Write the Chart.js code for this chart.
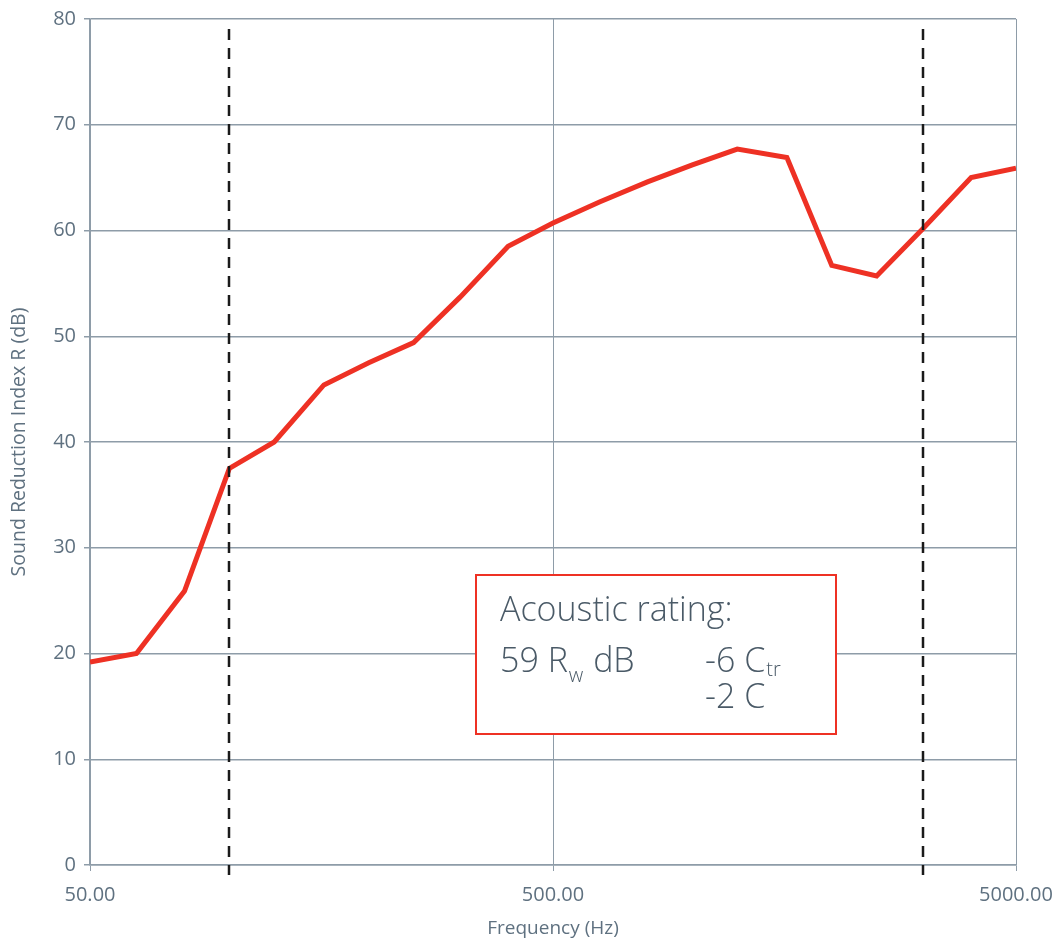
<!DOCTYPE html>
<html>
<head>
<meta charset="utf-8">
<script src="https://cdn.jsdelivr.net/npm/chart.js@4/dist/chart.umd.min.js"></script>
<style>
  html, body { margin: 0; padding: 0; background: #fff; }
  #wrap { width: 1061px; height: 944px; }
</style>
</head>
<body>
<div id="wrap"><canvas id="grafico"></canvas></div>
<script>
// third-octave band centre frequencies (Hz)
var frequencias = [50, 63, 80, 100, 125, 160, 200, 250, 315, 400, 500, 630, 800, 1000, 1250, 1600, 2000, 2500, 3150, 4000, 5000];
// sound reduction index R (dB)
var indice_r = [19.2, 20.0, 25.9, 37.5, 40.0, 45.4, 47.5, 49.4, 53.7, 58.5, 60.7, 62.7, 64.6, 66.2, 67.7, 66.9, 56.7, 55.7, 60.2, 65.0, 65.9];
var ticks_x = [50, 500, 5000];
var limites = [100, 3150]; // dashed band limits

var cor_texto = "#5f7180";
var cor_grade = "#8e9ca8";
var fonte = "'Open Sans', Lato, sans-serif";

var linhas_limite = {
    id: "linhas_limite",
    afterDatasetsDraw: function(chart) {
        var ctx = chart.ctx;
        var x = chart.scales.x;
        var area = chart.chartArea;
        ctx.save();
        ctx.strokeStyle = "#1a1a1a";
        ctx.lineWidth = 2.5;
        ctx.setLineDash([11, 8]);
        limites.forEach(function(f) {
            var px = Math.round(x.getPixelForValue(f));
            ctx.beginPath();
            ctx.moveTo(px, area.top + 10);
            ctx.lineTo(px, area.bottom + 10);
            ctx.stroke();
        });
        ctx.restore();
    }
};

var caixa_rating = {
    id: "caixa_rating",
    afterDraw: function(chart) {
        var ctx = chart.ctx;
        var area = chart.chartArea;
        var bx = area.left + 386, by = area.top + 556, bw = 360, bh = 159;
        ctx.save();
        ctx.fillStyle = "#fff";
        ctx.fillRect(bx, by, bw, bh);
        ctx.strokeStyle = "#ee3124";
        ctx.lineWidth = 2;
        ctx.strokeRect(bx, by, bw, bh);

        ctx.fillStyle = "#4a5a67";
        ctx.textBaseline = "alphabetic";
        ctx.textAlign = "left";
        var grande = "300 34px " + fonte;
        var pequeno = "300 20px " + fonte;

        ctx.font = grande;
        ctx.fillText("Acoustic rating:", bx + 24, by + 46);

        var x0 = bx + 24, y0 = by + 97;
        ctx.fillText("59 R", x0, y0);
        var w1 = ctx.measureText("59 R").width;
        ctx.font = pequeno;
        ctx.fillText("w", x0 + w1 + 1, y0 + 10);
        var w2 = ctx.measureText("w").width;
        ctx.font = grande;
        ctx.fillText(" dB", x0 + w1 + w2 + 2, y0);

        var x1 = bx + 229;
        ctx.fillText("-6 C", x1, y0);
        var w3 = ctx.measureText("-6 C").width;
        ctx.font = pequeno;
        ctx.fillText("tr", x1 + w3 + 1, y0 + 4);
        ctx.font = grande;
        ctx.fillText("-2 C", x1, y0 + 36);
        ctx.restore();
    }
};

var canvas = document.getElementById("grafico");
var grafico = new Chart(canvas, {
    type: "line",
    data: {
        datasets: [
            {
                label: "R",
                data: frequencias.map(function(f, i) { return { x: f, y: indice_r[i] }; }),
                borderColor: "#ee3124",
                backgroundColor: "#ee3124",
                borderWidth: 5,
                pointRadius: 0,
                tension: 0,
                fill: false
            }
        ]
    },
    options: {
        responsive: true,
        maintainAspectRatio: false,
        animation: false,
        layout: { padding: { top: 19, right: 45, left: 0, bottom: 0 } },
        plugins: {
            legend: { display: false },
            tooltip: { enabled: false }
        },
        scales: {
            x: {
                type: "logarithmic",
                min: 50,
                max: 5000,
                afterBuildTicks: function(scale) {
                    scale.ticks = ticks_x.map(function(v) { return { value: v }; });
                },
                afterFit: function(scale) {
                    scale.height = 79;
                    scale.paddingLeft = 0;
                    scale.paddingRight = 0;
                },
                ticks: {
                    color: cor_texto,
                    font: { family: fonte, size: 20 },
                    maxRotation: 0,
                    autoSkip: false,
                    padding: 12,
                    callback: function(v) { return Number(v).toFixed(2); }
                },
                grid: { color: cor_grade, lineWidth: 1, tickLength: 6, drawOnChartArea: true },
                border: { color: cor_grade, width: 1.5 },
                title: {
                    display: true,
                    text: "Frequency (Hz)",
                    color: cor_texto,
                    font: { family: fonte, size: 19 },
                    padding: { top: 5 }
                }
            },
            y: {
                min: 0,
                max: 80,
                afterFit: function(scale) {
                    scale.width = 90;
                    scale.paddingTop = 0;
                    scale.paddingBottom = 0;
                },
                ticks: {
                    stepSize: 10,
                    color: cor_texto,
                    font: { family: fonte, size: 20 },
                    padding: 8
                },
                grid: { color: cor_grade, lineWidth: 1.5, tickLength: 6 },
                border: { color: cor_grade, width: 1.5 },
                title: {
                    display: true,
                    text: "Sound Reduction Index R (dB)",
                    color: cor_texto,
                    font: { family: fonte, size: 19.5 },
                    padding: { top: 8, bottom: 2 }
                }
            }
        }
    },
    plugins: [linhas_limite, caixa_rating]
});
</script>
</body>
</html>
